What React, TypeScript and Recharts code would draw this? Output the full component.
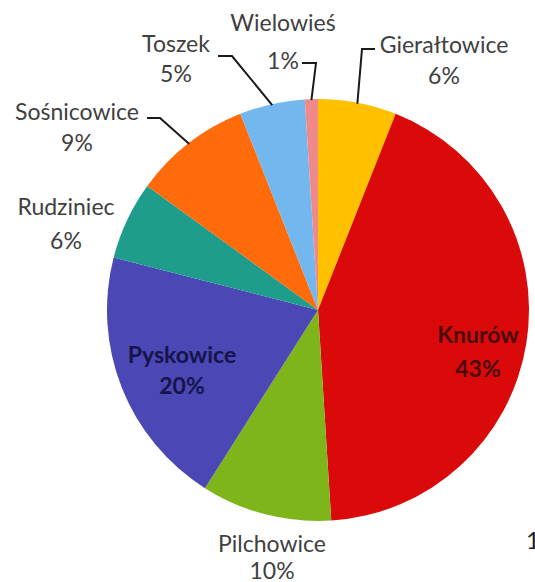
import React from 'react';
import { PieChart, Pie, Cell } from 'recharts';

const gminy = ['Gierałtowice', 'Knurów', 'Pilchowice', 'Pyskowice', 'Rudziniec', 'Sośnicowice', 'Toszek', 'Wielowieś'];
const udzial = [6, 43, 10, 20, 6, 9, 5, 1];
const kolory = ['#FFC000', '#DA0A0A', '#7DB51A', '#4B47B5', '#1E9C8C', '#FF6A0A', '#72B8EE', '#F08A8A'];

const data = gminy.map((name, i) => ({ name, value: udzial[i] }));

const RADIAN = Math.PI / 180;
const CX = 318;
const CY = 310;
const R = 211;
const FONT = 23;

// label placement relative to pie centre; gap = distance to the % line; line = [textSideX, elbowX, y]
interface LabelPos {
  dx: number;
  dy: number;
  gap: number;
  color: string;
  bold?: boolean;
  line?: [number, number, number];
}

const labelPos: Record<string, LabelPos> = {
  'Gierałtowice': { dx: 126, dy: -266, gap: 31, color: '#404040', line: [57, 44, -261] },
  'Knurów': { dx: 160, dy: 24, gap: 34, color: '#4a0a0a', bold: true },
  'Pilchowice': { dx: -46, dy: 233, gap: 27, color: '#404040' },
  'Pyskowice': { dx: -136, dy: 44, gap: 31, color: '#15154a', bold: true },
  'Rudziniec': { dx: -252, dy: -104, gap: 34, color: '#404040' },
  'Sośnicowice': { dx: -241, dy: -199, gap: 31, color: '#404040', line: [-171, -158, -192] },
  'Toszek': { dx: -142, dy: -267, gap: 30, color: '#404040', line: [-100, -86, -254] },
  'Wielowieś': { dx: -35, dy: -288, gap: 38, color: '#404040', line: [-16, -2, -247] },
};

interface LabelProps {
  cx: number;
  cy: number;
  midAngle: number;
  outerRadius: number;
  name: string;
  value: number;
}

function renderLabel({ cx, cy, midAngle, outerRadius, name, value }: LabelProps) {
  const p = labelPos[name];
  const x = cx + p.dx;
  const y = cy + p.dy;
  const ax = cx + (outerRadius - 1) * Math.cos(-midAngle * RADIAN);
  const ay = cy + (outerRadius - 1) * Math.sin(-midAngle * RADIAN);
  return (
    <g key={name}>
      {p.line && (
        <polyline
          points={`${cx + p.line[0]},${cy + p.line[2]} ${cx + p.line[1]},${cy + p.line[2]} ${ax},${ay}`}
          fill="none"
          stroke="#1a1a1a"
          strokeWidth={2}
        />
      )}
      <text
        x={x}
        y={y}
        textAnchor="middle"
        dominantBaseline="central"
        fill={p.color}
        fontSize={FONT}
        fontWeight={p.bold ? 700 : 400}
      >
        {name}
      </text>
      <text
        x={x}
        y={y + p.gap}
        textAnchor="middle"
        dominantBaseline="central"
        fill={p.color}
        fontSize={FONT}
        fontWeight={p.bold ? 700 : 400}
      >
        {value}%
      </text>
    </g>
  );
}

export default function App() {
  return (
    <div style={{ position: 'absolute', left: 0, top: 0, width: 535, height: 582, background: '#fff', fontFamily: 'Lato, sans-serif' }}>
      <PieChart width={535} height={582} margin={{ top: 0, right: 0, bottom: 0, left: 0 }}>
        <Pie
          data={data}
          dataKey="value"
          nameKey="name"
          cx={CX}
          cy={CY}
          outerRadius={R}
          startAngle={90}
          endAngle={-270}
          stroke="none"
          isAnimationActive={false}
          labelLine={false}
          label={renderLabel}
        >
          {data.map((d, i) => (
            <Cell key={d.name} fill={kolory[i]} />
          ))}
        </Pie>
        <text x={526} y={549} fontSize={24} fill="#222" fontFamily="Lato, sans-serif">1</text>
      </PieChart>
    </div>
  );
}
